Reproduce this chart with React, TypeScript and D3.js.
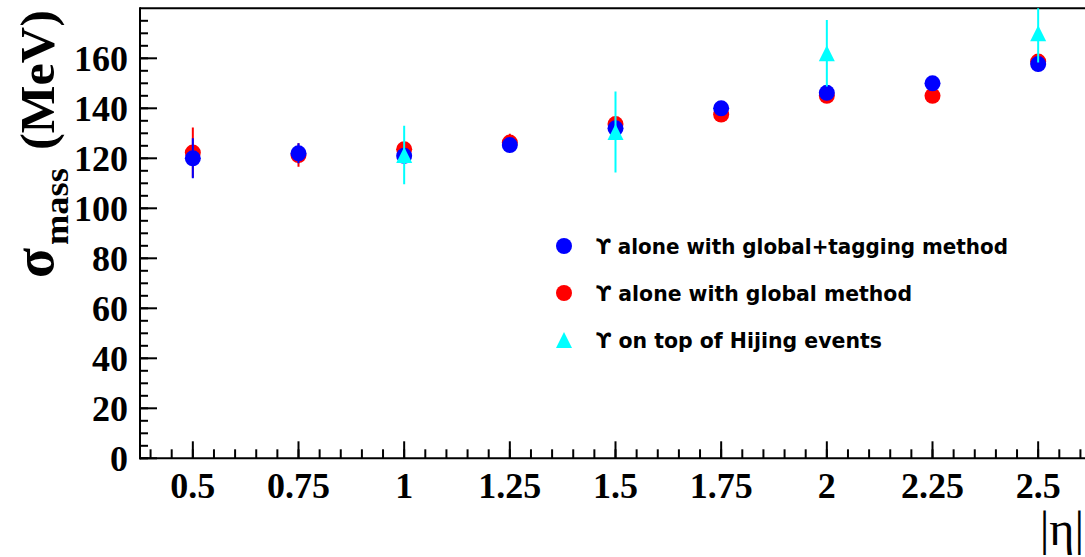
import React from "react";
import * as d3 from "d3";

const etaValues = [0.5, 0.75, 1, 1.25, 1.5, 1.75, 2, 2.25, 2.5];
const sigmaGlobalTagging = [120, 122, 121, 125.3, 132, 140, 146.2, 150, 157.7];
const errGlobalTagging = [8, 4, 3, 2, 3, 2, 2, 2, 3];
const sigmaGlobal = [122.3, 121.3, 123.6, 126.3, 133.7, 137.5, 145, 145, 158.7];
const errGlobal = [10, 4.7, 3, 3.5, 3, 2, 2, 2, 3];
const hijingEta = [1, 1.5, 2, 2.5];
const sigmaHijing = [121.3, 130.5, 162, 170];
const errHijing = [11.7, 16.2, 13.3, 11.7];

const xMajorTicks = [0.5, 0.75, 1, 1.25, 1.5, 1.75, 2, 2.25, 2.5];
const xTickLabels = ["0.5", "0.75", "1", "1.25", "1.5", "1.75", "2", "2.25", "2.5"];
const yMajorTicks = [0, 20, 40, 60, 80, 100, 120, 140, 160];

const legendLabels = [
  "\u03D2 alone with global+tagging method",
  "\u03D2 alone with global method",
  "\u03D2 on top of Hijing events",
];

const W = 1085;
const H = 557;
const L = 140;
const R = 1091;
const T = 8.3;
const B = 458.3;

const BLUE = "#0000ff";
const RED = "#ff0000";
const CYAN = "#00ffff";

export default function App() {
  const x = d3.scaleLinear().domain([0.375, 2.625]).range([L, R]);
  const y = d3.scaleLinear().domain([0, 180]).range([B, T]);

  const xMinor = d3.range(0.4, 2.62, 0.05).map((v) => Math.round(v * 100) / 100);
  const yMinor = d3.range(0, 180, 5);

  const serif = "'Liberation Serif', 'Times New Roman', serif";
  const sans = "'DejaVu Sans', sans-serif";

  const circleSeries = (vals: number[], errs: number[], color: string, key: string) => (
    <g key={key}>
      {etaValues.map((e, i) => (
        <line key={"e" + i} x1={x(e)} x2={x(e)} y1={y(vals[i] - errs[i])} y2={y(vals[i] + errs[i])}
          stroke={color} strokeWidth={2} />
      ))}
      {etaValues.map((e, i) => (
        <circle key={"c" + i} cx={x(e)} cy={y(vals[i])} r={8} fill={color} />
      ))}
    </g>
  );

  const tri = (cx: number, cy: number) =>
    `M${cx - 8},${cy + 8}L${cx + 8},${cy + 8}L${cx},${cy - 8}Z`;

  const legendY = [246, 293, 340];
  const legendLens = [412, 316, 286];

  return (
    <svg width={W} height={H} style={{ position: "absolute", left: 0, top: 0, background: "#fff" }}>
      <defs>
        <clipPath id="plotclip">
          <rect x={L} y={T} width={R - L} height={B - T} />
        </clipPath>
      </defs>
      <rect x={0} y={0} width={W} height={H} fill="#fff" />

      {/* frame */}
      <line x1={L} x2={R} y1={T} y2={T} stroke="#000" strokeWidth={2} />
      <line x1={L} x2={L} y1={T - 1} y2={B + 1} stroke="#000" strokeWidth={2} />
      <line x1={L - 1} x2={R} y1={B} y2={B} stroke="#000" strokeWidth={2} />

      {/* x ticks */}
      {xMinor.map((v, i) => (
        <line key={"xm" + i} x1={x(v)} x2={x(v)} y1={B} y2={B - 9} stroke="#000" strokeWidth={2} />
      ))}
      {xMajorTicks.map((v, i) => (
        <line key={"xM" + i} x1={x(v)} x2={x(v)} y1={B} y2={B - 17} stroke="#000" strokeWidth={2} />
      ))}
      {xMajorTicks.map((v, i) => (
        <text key={"xl" + i} x={x(v)} y={498} textAnchor="middle" fontFamily={serif}
          fontWeight="bold" fontSize={36}>{xTickLabels[i]}</text>
      ))}

      {/* y ticks */}
      {yMinor.map((v, i) => (
        <line key={"ym" + i} x1={L} x2={L + 8} y1={y(v)} y2={y(v)} stroke="#000" strokeWidth={2} />
      ))}
      {yMajorTicks.map((v, i) => (
        <line key={"yM" + i} x1={L} x2={L + 17} y1={y(v)} y2={y(v)} stroke="#000" strokeWidth={2} />
      ))}
      {yMajorTicks.map((v, i) => (
        <text key={"yl" + i} x={128} y={y(v) + 12.5} textAnchor="end" fontFamily={serif}
          fontWeight="bold" fontSize={36}>{String(v)}</text>
      ))}

      {/* axis titles */}
      <text transform="translate(53,278) rotate(-90)" fontFamily={serif} fontWeight="bold" fontSize={56}
        textLength={30} lengthAdjust="spacingAndGlyphs">σ</text>
      <text transform="translate(68,245) rotate(-90)" fontFamily={serif} fontWeight="bold" fontSize={34}
        textLength={77} lengthAdjust="spacingAndGlyphs">mass</text>
      <text transform="translate(54,150) rotate(-90)" fontFamily={serif} fontWeight="bold" fontSize={48}
        textLength={140} lengthAdjust="spacingAndGlyphs">(MeV)</text>
      <text x={1084} y={545} textAnchor="end" fontFamily={serif} fontSize={48}>|η|</text>

      {/* data */}
      <g clipPath="url(#plotclip)">
        {circleSeries(sigmaGlobal, errGlobal, RED, "red")}
        {circleSeries(sigmaGlobalTagging, errGlobalTagging, BLUE, "blue")}
        {hijingEta.map((e, i) => (
          <line key={"he" + i} x1={x(e)} x2={x(e)} y1={y(sigmaHijing[i] - errHijing[i])}
            y2={y(sigmaHijing[i] + errHijing[i])} stroke={CYAN} strokeWidth={2} />
        ))}
        {hijingEta.map((e, i) => (
          <path key={"hm" + i} d={tri(x(e), y(sigmaHijing[i]))} fill={CYAN} />
        ))}
      </g>

      {/* legend */}
      <circle cx={564} cy={legendY[0]} r={8} fill={BLUE} />
      <circle cx={564} cy={legendY[1]} r={8} fill={RED} />
      <path d={tri(564, legendY[2])} fill={CYAN} />
      {legendLabels.map((t, i) => (
        <text key={"lg" + i} x={596} y={legendY[i] + 8} fontFamily={sans} fontSize={21}
          fontWeight="bold" textLength={legendLens[i]} lengthAdjust="spacingAndGlyphs">{t}</text>
      ))}
    </svg>
  );
}
